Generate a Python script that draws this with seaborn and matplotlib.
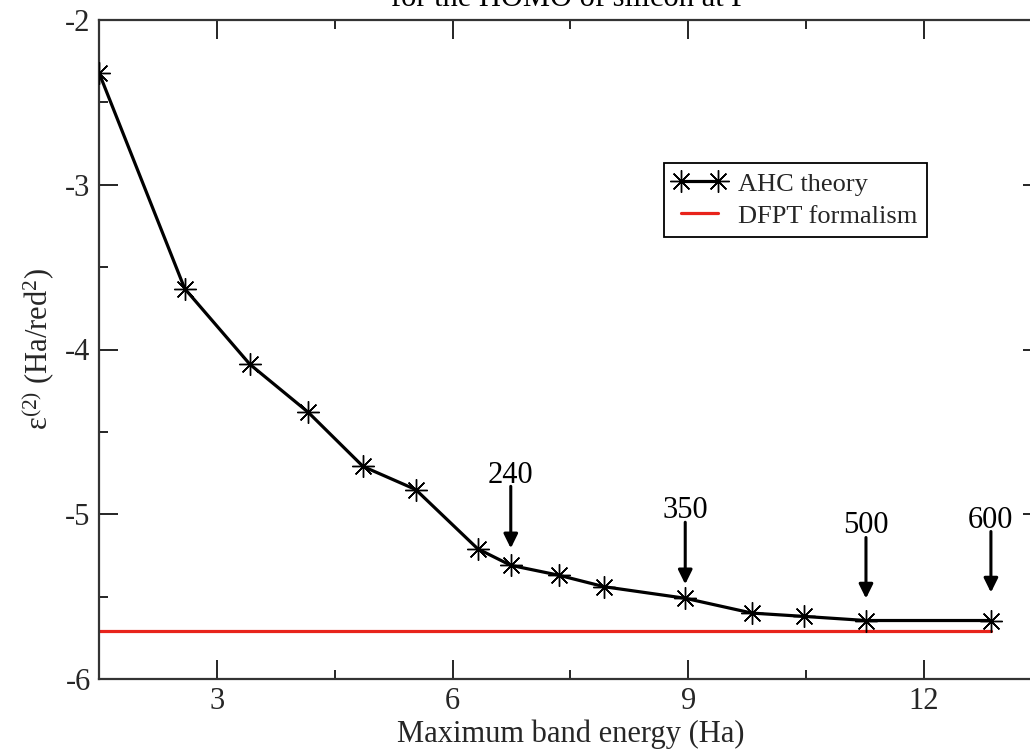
import numpy as np
import pandas as pd
import matplotlib
matplotlib.use("Agg")
import matplotlib.pyplot as plt
import matplotlib.transforms as mtransforms
from matplotlib.lines import Line2D
import seaborn as sns

# ---------------- data ----------------
band_energy = [1.50, 2.59, 3.42, 4.16, 4.86, 5.53, 6.32, 6.74, 7.35, 7.93,
               8.96, 9.81, 10.47, 11.26, 12.85]
ahc_values = [-2.32, -3.63, -4.09, -4.38, -4.71, -4.85, -5.21, -5.31, -5.37,
              -5.44, -5.51, -5.60, -5.62, -5.645, -5.645]
dfpt_value = -5.71
dfpt_x = [1.50, 12.85]
band_labels = ["240", "350", "500", "600"]
band_label_index = [7, 10, 13, 14]

title_text = "for the HOMO of silicon at \u0393"
x_label = "Maximum band energy (Ha)"
y_label = "\u03b5$^{(2)}$ (Ha/red$^{2}$)"
legend_labels = ["AHC theory", "DFPT formalism"]
x_ticks = [3, 6, 9, 12]
y_ticks = [-2, -3, -4, -5, -6]

# ---------------- style ----------------
sns.set_theme(style="ticks")
plt.rcParams["font.family"] = ["Liberation Serif", "DejaVu Serif"]
plt.rcParams["mathtext.fontset"] = "custom"
plt.rcParams["mathtext.rm"] = "Liberation Serif"
plt.rcParams["mathtext.it"] = "Liberation Serif:italic"
plt.rcParams["axes.unicode_minus"] = False

W, H = 1030, 752
fig = plt.figure(figsize=(W / 100, H / 100), dpi=100)
ax = fig.add_axes([99 / W, (H - 679) / H, (1042 - 99) / W, (679 - 20) / H])

df = pd.DataFrame({"x": band_energy, "y": ahc_values})
df_red = pd.DataFrame({"x": dfpt_x, "y": [dfpt_value] * len(dfpt_x)})

star = (8, 2, 0)
sns.lineplot(data=df_red, x="x", y="y", ax=ax, color="#e8231b", lw=2.3,
             legend=False, zorder=2)
sns.lineplot(data=df, x="x", y="y", ax=ax, color="black", lw=2.3,
             marker=star, markersize=16, markeredgewidth=1.0,
             markeredgecolor="black", legend=False, zorder=3)

ax.set_xlim(1.5, 13.5)
ax.set_ylim(-6, -2)
ax.set_xticks(x_ticks)
ax.set_xticklabels([str(t) for t in x_ticks])
ax.set_yticks(y_ticks)
ax.set_yticklabels([str(t) for t in y_ticks])
ax.set_xticks(np.arange(4.5, 13.5, 3.0), minor=True)
ax.set_yticks(np.arange(-5.5, -2.0, 1.0), minor=True)
ax.tick_params(which="both", direction="in", top=True, right=True,
               color="black", width=1.2)
ax.tick_params(which="major", length=13.5, labelsize=22, pad=6)
ax.tick_params(which="minor", length=6.5)
for s in ax.spines.values():
    s.set_linewidth(1.6)
    s.set_color("#333333")

ax.set_xlabel(x_label, fontsize=22, labelpad=2)
ax.set_ylabel(y_label, fontsize=22, labelpad=6)

# annotations: (gap above point, arrow length, text baseline) in pixels
ann_style = [(17, 62, 82), (14, 62, 80), (22, 61, 88), (28, 61, 93)]
for lab, idx, (gap, length, tb) in zip(band_labels, band_label_index, ann_style):
    xp, yp = band_energy[idx], ahc_values[idx]
    tip_tr = mtransforms.offset_copy(ax.transData, fig=fig, x=0, y=gap, units="dots")
    ax.annotate("", xy=(xp, yp), xycoords=tip_tr,
                xytext=(0, length), textcoords="offset pixels",
                arrowprops=dict(arrowstyle="-|>,head_length=0.85,head_width=0.42",
                                mutation_scale=10, lw=2.2, color="black",
                                shrinkA=0, shrinkB=0))
    txt_tr = mtransforms.offset_copy(ax.transData, fig=fig, x=0, y=tb, units="dots")
    ax.text(xp, yp, lab, transform=txt_tr, ha="center", va="baseline",
            fontsize=22, color="black")

handles = [
    Line2D([], [], color="black", lw=2.3, marker=star, markersize=16,
           markeredgewidth=1.0),
    Line2D([], [], color="#e8231b", lw=2.3),
]
leg = ax.legend(handles, legend_labels, loc="upper left",
                bbox_to_anchor=(664 / W, 1 - 163 / H),
                bbox_transform=fig.transFigure, borderaxespad=0,
                fontsize=19, numpoints=2, handlelength=2.0,
                handletextpad=0.45, labelspacing=0.32, borderpad=0.35,
                fancybox=False, framealpha=1, edgecolor="black")
leg.get_frame().set_linewidth(1.3)

fig.text(570 / W, 1 - 6 / H, title_text, ha="center", va="baseline",
         fontsize=22, color="black")

fig.savefig("out.png", dpi=100)
